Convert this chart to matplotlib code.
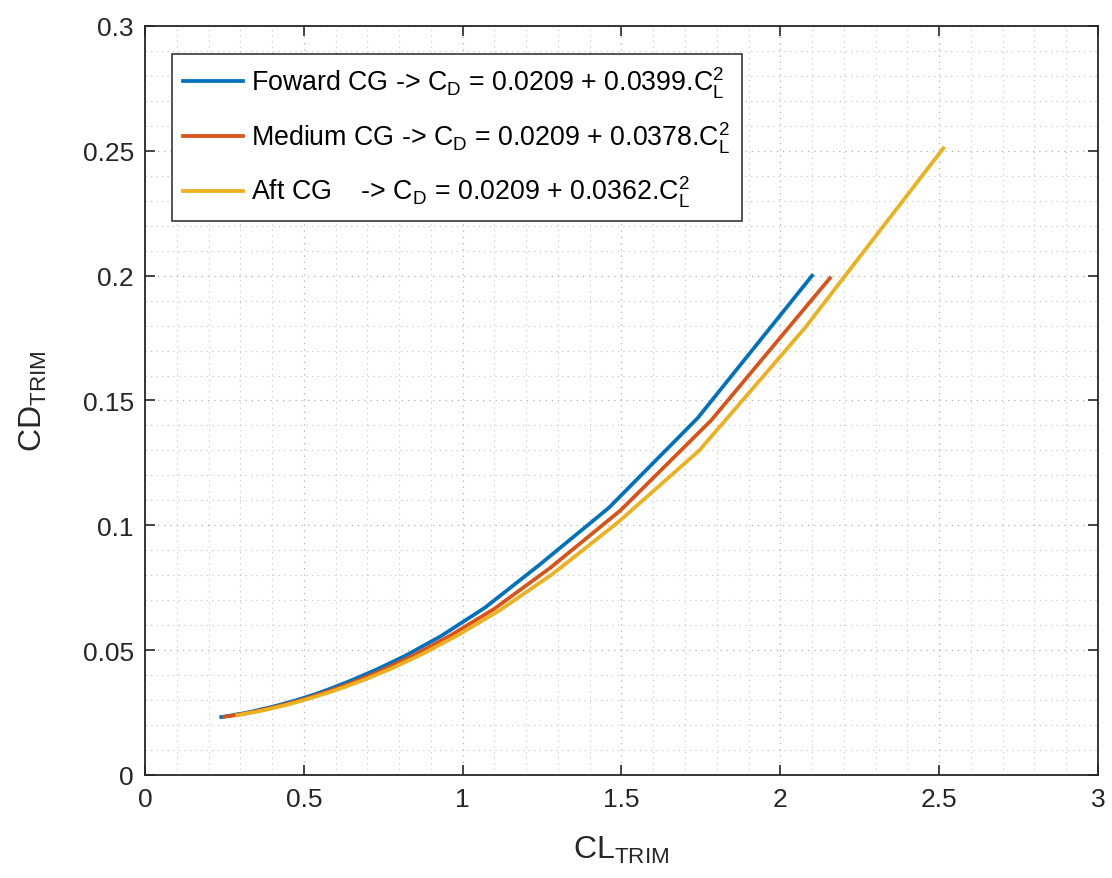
import matplotlib
matplotlib.use("Agg")
import matplotlib.pyplot as plt
from matplotlib.ticker import MultipleLocator, FormatStrFormatter

plt.rcParams['font.family'] = ['Liberation Sans', 'DejaVu Sans']
plt.rcParams['mathtext.fontset'] = 'custom'
plt.rcParams['mathtext.rm'] = 'Liberation Sans'
plt.rcParams['mathtext.it'] = 'Liberation Sans:italic'

# trim polar points
cl_fwd = [2.10, 1.74, 1.46, 1.24, 1.07, 0.93, 0.82, 0.73, 0.65, 0.58,
          0.53, 0.48, 0.43, 0.40, 0.37, 0.34, 0.31, 0.29, 0.27, 0.24]
cd_fwd = [0.200, 0.143, 0.107, 0.084, 0.067, 0.0555, 0.0478, 0.0423, 0.0379, 0.0344,
          0.0321, 0.0301, 0.0283, 0.0273, 0.0264, 0.0255, 0.0247, 0.0243, 0.0238, 0.0232]

cl_med = [2.156, 1.782, 1.497, 1.276, 1.100, 0.958, 0.842, 0.746, 0.665, 0.597,
          0.539, 0.489, 0.445, 0.408, 0.375, 0.345, 0.319, 0.296, 0.275, 0.25]
cd_med = [0.199, 0.142, 0.106, 0.083, 0.0666, 0.0556, 0.0477, 0.0419, 0.0376, 0.0344,
          0.0319, 0.0299, 0.0284, 0.0272, 0.0262, 0.0254, 0.0247, 0.0242, 0.0238, 0.0233]

cl_aft = [2.513, 2.077, 1.745, 1.487, 1.282, 1.117, 0.982, 0.869, 0.775, 0.696,
          0.628, 0.570, 0.519, 0.475, 0.437, 0.403, 0.373, 0.346, 0.322, 0.29]
cd_aft = [0.251, 0.179, 0.130, 0.101, 0.0804, 0.066, 0.0558, 0.0482, 0.0426, 0.0384,
          0.0352, 0.0327, 0.0307, 0.0291, 0.0278, 0.0268, 0.0259, 0.0252, 0.0247, 0.0239]

labels = ['Foward CG -> C$_\\mathrm{D}$ = 0.0209 + 0.0399.C$_\\mathrm{L}^\\mathrm{2}$',
          'Medium CG -> C$_\\mathrm{D}$ = 0.0209 + 0.0378.C$_\\mathrm{L}^\\mathrm{2}$',
          'Aft CG    -> C$_\\mathrm{D}$ = 0.0209 + 0.0362.C$_\\mathrm{L}^\\mathrm{2}$']

fig = plt.figure(figsize=(11.12, 8.79), dpi=100)
ax = fig.add_axes([0.1304, 0.1172, 0.8570, 0.8521])

ax.plot(cl_fwd, cd_fwd, color='#0072BD', lw=2.7, label=labels[0])
ax.plot(cl_med, cd_med, color='#D95319', lw=2.7, label=labels[1])
ax.plot(cl_aft, cd_aft, color='#EDB120', lw=2.7, label=labels[2])

ax.set_xlim(0, 3)
ax.set_ylim(0, 0.3)
ax.xaxis.set_major_locator(MultipleLocator(0.5))
ax.xaxis.set_minor_locator(MultipleLocator(0.1))
ax.yaxis.set_major_locator(MultipleLocator(0.05))
ax.yaxis.set_minor_locator(MultipleLocator(0.01))
ax.xaxis.set_major_formatter(FormatStrFormatter('%g'))
ax.yaxis.set_major_formatter(FormatStrFormatter('%g'))

ax.grid(which='major', color='#b0b0b0', linestyle=(0, (1, 4)), linewidth=0.9)
ax.grid(which='minor', color='#c4c4c4', linestyle=(0, (1, 4)), linewidth=0.8)
ax.set_axisbelow(True)

ax.tick_params(which='both', direction='in', top=True, right=True, colors='#262626')
ax.tick_params(which='major', length=7, width=1.2, labelsize=19)
ax.tick_params(axis='x', which='major', pad=9)
ax.tick_params(axis='y', which='major', pad=8)
ax.tick_params(which='minor', length=0)
for s in ax.spines.values():
    s.set_color('#262626')
    s.set_linewidth(1.3)

ax.set_xlabel('CL$_\\mathrm{TRIM}$', fontsize=23, color='#262626', labelpad=16)
ax.set_ylabel('CD$_\\mathrm{TRIM}$', fontsize=23, color='#262626', labelpad=24)

leg = ax.legend(loc='upper left', bbox_to_anchor=(0.028, 0.963), borderaxespad=0,
                fontsize=19.3, handlelength=2.25, labelspacing=0.72, fancybox=False,
                framealpha=1, edgecolor='#262626', handletextpad=0.3, borderpad=0.42)
leg.get_frame().set_linewidth(1.1)

fig.savefig('out.png', dpi=100)
